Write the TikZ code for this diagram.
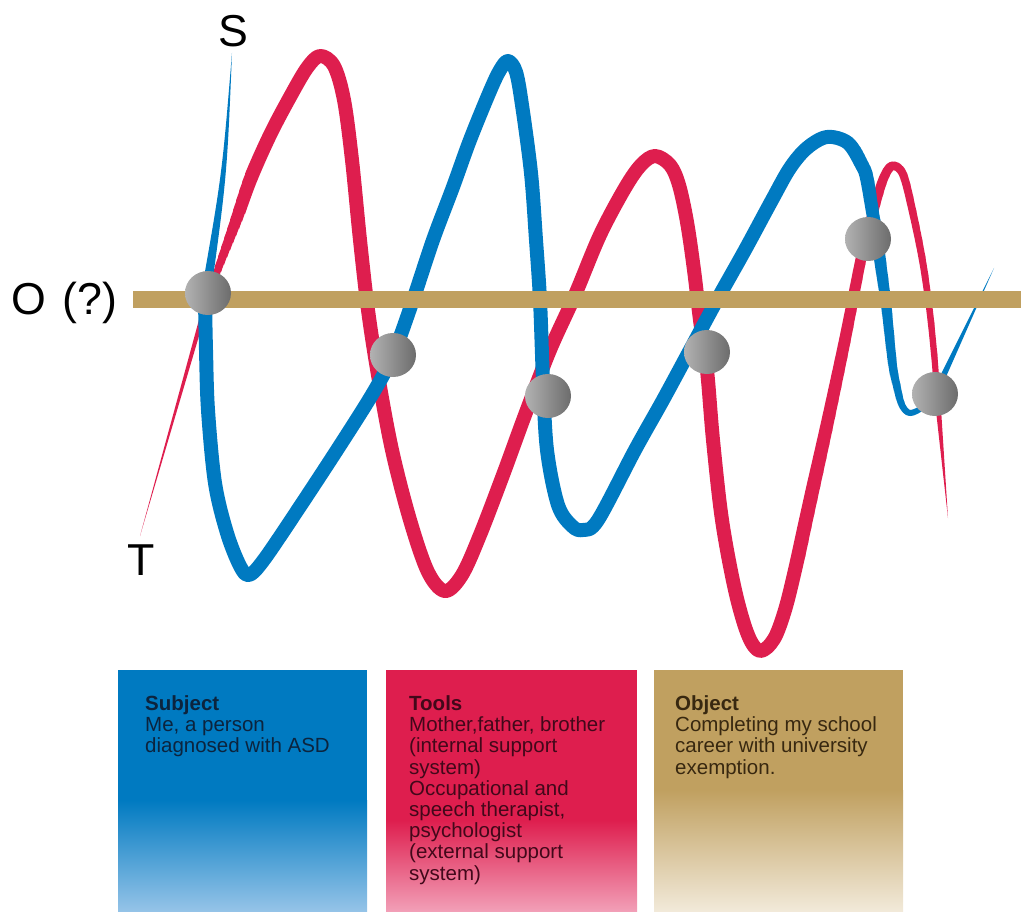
\documentclass[tikz,border=0pt]{standalone}
\usepackage{fontspec}
\setmainfont{Liberation Sans}
\usetikzlibrary{shapes.geometric}
\definecolor{blueC}{RGB}{0,122,193}
\definecolor{blueL}{RGB}{150,196,232}
\definecolor{redC}{RGB}{222,30,78}
\definecolor{redL}{RGB}{242,160,184}
\definecolor{tanC}{RGB}{192,160,96}
\definecolor{tanL}{RGB}{242,234,218}
\definecolor{ballL}{RGB}{178,178,178}
\definecolor{ballR}{RGB}{108,108,108}
\definecolor{blueT}{RGB}{12,36,62}
\definecolor{redT}{RGB}{66,8,26}
\definecolor{tanT}{RGB}{56,40,16}
\newcommand{\redcurve}{plot[smooth,tension=0.55] coordinates {(207,300) (218,268) (233,227) (250,180) (270,135) (290,97) (307,68) (320,56) (334,66) (344,100) (352,160) (360,240) (368,310) (378,375) (392,450) (410,520) (428,572) (445,591) (462,575) (480,535) (503,475) (525,415) (550,350) (575,295) (600,235) (625,188) (641,165) (655,156) (670,165) (679,185) (687,222) (694,270) (700,320) (707,370) (713,440) (722,520) (735,590) (748,635) (760,651) (774,639) (785,610) (795,570) (806,520) (826,430) (843,350) (852,305) (863,250) (873,213) (883,180) (892,166) (903,174) (913,213) (923,263) (930,313) (935,363) (937,393)}}
\newcommand{\bluecurve}{plot[smooth,tension=0.55] coordinates {(205,300) (206,350) (208,410) (215,483) (227,533) (240,566) (249,575) (263,561) (293,517) (337,450) (373,393) (393,355) (413,300) (433,240) (453,187) (470,140) (490,91) (500,70) (508,61) (516,72) (522,105) (531,173) (536,240) (540,300) (543,380) (547,450) (558,505) (572,526) (583,530) (598,520) (635,450) (663,400) (690,350) (717,300) (745,250) (772,200) (790,168) (807,148) (827,137) (848,143) (862,165) (867,178) (873,213) (877,235) (882,270) (887,307) (893,363) (897,385) (902,405) (910,413) (923,407) (935,393)}}
\begin{document}
\begin{tikzpicture}[x=1pt,y=-1pt,line cap=round,line join=round]
\tikzset{
  ball/.style={ellipse,minimum width=46pt,minimum height=44pt,inner sep=0pt,left color=ballL,right color=ballR,draw=none},
  biglab/.style={font=\fontsize{44.7}{50}\selectfont,anchor=base,inner sep=0pt},
  txt/.style={font=\fontsize{20.5}{21.2}\selectfont,align=left,inner sep=0pt,anchor=north west}
}
\useasboundingbox (0,0) rectangle (1021,912);

% ---------- red curve (T) ----------
\fill[redC] (140,536) -- (204.6,299.3) -- (209.4,300.7) -- cycle;
\foreach \xa in {206,209,...,242}{
  \pgfmathsetmacro{\w}{5+(\xa-206)*9/39}
  \begin{scope}\clip (\xa,-20) rectangle (\xa+3.4,1000);
  \draw[redC,line width=\w pt] \redcurve;\end{scope}}
\begin{scope}\clip (245,-20) rectangle (805.4,1000);
\draw[redC,line width=14pt] \redcurve;\end{scope}
\foreach \xa in {805,808,...,938}{
  \pgfmathsetmacro{\w}{14-(\xa-805)*8/132}
  \begin{scope}\clip (\xa,-20) rectangle (\xa+3.4,1000);
  \draw[redC,line width=\w pt] \redcurve;\end{scope}}
\fill[redC] (934,393) -- (940,393) -- (948,518) -- cycle;

% ---------- blue curve (S) ----------
\fill[blueC] (232,53) .. controls (227,175) .. (210,300) -- (200,300) .. controls (222,175) .. (232,53) -- cycle;
\begin{scope}\clip (150,-20) rectangle (860.4,1000);
\draw[blueC,line width=14pt] \bluecurve;\end{scope}
\foreach \xa/\w in {860/14,862/13.85,864/13.7,866/13.5,868/13.35,870/13.2,872/13.05,874/12.8,876/12.4,878/12,880/11.5,882/11.1,884/10.7,886/10.2,888/9.7,890/9.1,892/8.5,894/7.9,896/7.3,898/6.9,900/6.7,902/6.55,904/6.4,906/6.25,908/6.1,910/6,912/5.9,914/5.8,916/5.7,918/5.6,920/5.5,922/5.4,924/5.3,926/5.2,928/5.1,930/5,932/5,934/5,936/5}{
  \begin{scope}\clip (\xa,-20) rectangle (\xa+2.4,1000);
  \draw[blueC,line width=\w pt] \bluecurve;\end{scope}}
\fill[blueC] (932,392) -- (938,395) -- (994,268) -- cycle;

% ---------- O bar ----------
\draw[tanC,line width=17pt,line cap=butt] (133,299.5) -- (1021,299.5);

% ---------- balls ----------
\node[ball] (b1) at (208,293) {};
\node[ball] (b2) at (393,355) {};
\node[ball] (b3) at (548,396) {};
\node[ball] (b4) at (707,352) {};
\node[ball] (b5) at (868,239) {};
\node[ball] (b6) at (935,394) {};

% ---------- labels ----------
\node[biglab] (S) at (233.5,47) {S};
\node[biglab] (T) at (141,575) {T};
\node[biglab,anchor=base west] (O) at (11,315) {O \hspace{4pt}(?)};

% ---------- boxes ----------
\fill[blueC] (118,670) rectangle (367,802);
\shade[top color=blueC,bottom color=blueL] (118,800) rectangle (367,912);
\fill[redC] (386,670) rectangle (637,822);
\shade[top color=redC,bottom color=redL] (386,820) rectangle (637,912);
\fill[tanC] (654,670) rectangle (903,792);
\shade[top color=tanC,bottom color=tanL] (654,790) rectangle (903,912);

\node[txt,text=blueT] (subj) at (145,695.5) {\textbf{Subject}\\Me, a person\\diagnosed with ASD};
\node[txt,text=redT] (tools) at (409,695.5) {\textbf{Tools}\\Mother,father, brother\\(internal support\\system)\\Occupational and\\speech therapist,\\psychologist\\(external support\\system)};
\node[txt,text=tanT] (obj) at (675,695.5) {\textbf{Object}\\Completing my school\\career with university\\exemption.};
\end{tikzpicture}
\end{document}
